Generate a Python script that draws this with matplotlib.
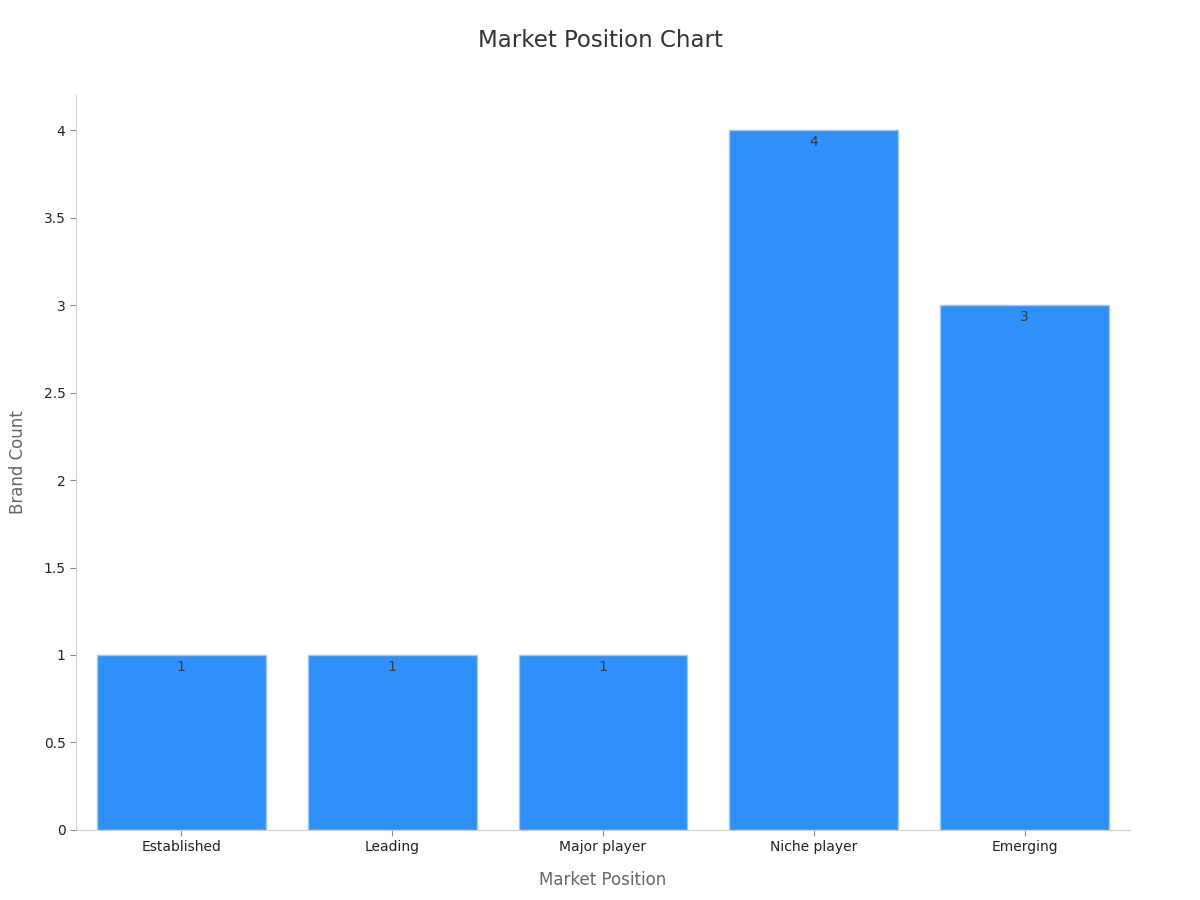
import matplotlib
matplotlib.use("Agg")
import matplotlib.pyplot as plt

positions = ["Established", "Leading", "Major player", "Niche player", "Emerging"]
counts = [1, 1, 1, 4, 3]
yticks = [0, 0.5, 1, 1.5, 2, 2.5, 3, 3.5, 4]
ytick_labels = ["0", "0.5", "1", "1.5", "2", "2.5", "3", "3.5", "4"]

fig = plt.figure(figsize=(12, 9), dpi=100)
ax = fig.add_axes([0.0633, 0.0778, 0.8784, 0.8166])

x = range(len(positions))
bars = ax.bar(x, counts, width=0.8, color="#2e90f8", edgecolor="#9cc9f5", linewidth=1)
for b, v in zip(bars, counts):
    ax.text(b.get_x() + b.get_width() / 2, v - 0.03, str(v), ha="center", va="top",
            fontsize=10, color="#3a3a3a")

ax.set_xlim(-0.5, 4.5)
ax.set_ylim(0, 4.2)
ax.set_xticks(list(x))
ax.set_xticklabels(positions, fontsize=10, color="#222222")
ax.set_yticks(yticks)
ax.set_yticklabels(ytick_labels, fontsize=10, color="#222222")
ax.tick_params(axis="both", color="#888888", length=4)

for s in ["top", "right"]:
    ax.spines[s].set_visible(False)
for s in ["left", "bottom"]:
    ax.spines[s].set_color("#d0d0d0")

ax.set_xlabel("Market Position", fontsize=12, color="#666666", labelpad=12)
ax.set_ylabel("Brand Count", fontsize=12, color="#666666", labelpad=12)
fig.suptitle("Market Position Chart", fontsize=16.5, color="#333333", y=0.968)

fig.savefig("out.png", dpi=100)
